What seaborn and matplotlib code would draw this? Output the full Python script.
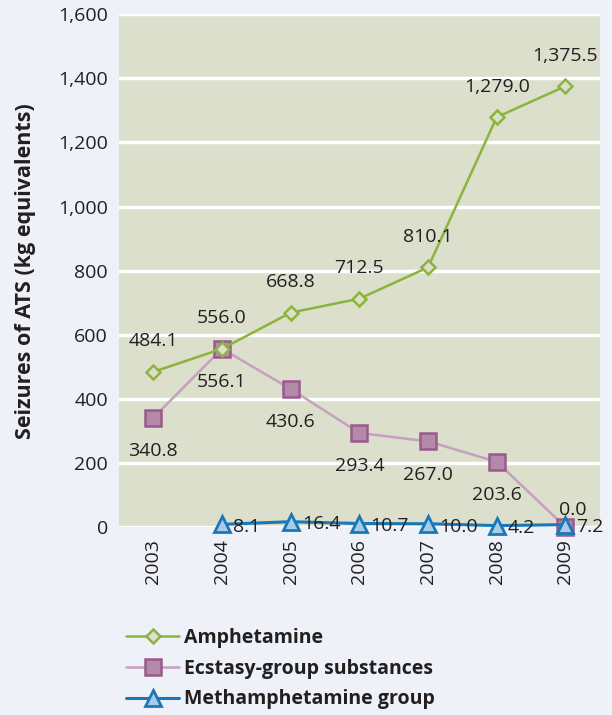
import numpy as np
import pandas as pd
import matplotlib
matplotlib.use("Agg")
import matplotlib.pyplot as plt
import seaborn as sns

# data
years = ["2003", "2004", "2005", "2006", "2007", "2008", "2009"]
amphetamine = [484.1, 556.0, 668.8, 712.5, 810.1, 1279.0, 1375.5]
ecstasy = [340.8, 556.1, 430.6, 293.4, 267.0, 203.6, 0.0]
meth = [np.nan, 8.1, 16.4, 10.7, 10.0, 4.2, 7.2]

series_names = ["Amphetamine", "Ecstasy-group substances", "Methamphetamine group"]

sns.set_theme(style="white")
plt.rcParams['font.family'] = ['Open Sans', 'DejaVu Sans']

FIG_BG = "#eef1f8"
AX_BG = "#dbdfcb"
TEXT = "#231f20"

fig = plt.figure(figsize=(6.12, 7.15), dpi=100, facecolor=FIG_BG)
ax = fig.add_axes([0.1944, 0.263, 0.7856, 0.717])
ax.set_facecolor(AX_BG)

x = np.arange(len(years))
df = pd.DataFrame({"x": x, "Amphetamine": amphetamine,
                   "Ecstasy-group substances": ecstasy,
                   "Methamphetamine group": meth})

styles = {
    "Amphetamine": dict(color="#8cb43c", marker="D", markersize=7,
                        markerfacecolor=AX_BG, markeredgecolor="#8cb43c",
                        markeredgewidth=1.8, linewidth=1.8),
    "Ecstasy-group substances": dict(color="#c7a0c0", marker="s", markersize=11,
                                     markerfacecolor="#b48aa9", markeredgecolor="#9b5a8e",
                                     markeredgewidth=1.8, linewidth=1.8),
    "Methamphetamine group": dict(color="#1a78b8", marker="^", markersize=11,
                                  markerfacecolor="#a9cbe8", markeredgecolor="#1a78b8",
                                  markeredgewidth=2.0, linewidth=2.2),
}

for name in ["Ecstasy-group substances", "Amphetamine", "Methamphetamine group"]:
    sub = df[["x", name]].dropna()
    sns.lineplot(data=sub, x="x", y=name, ax=ax, label=name,
                 clip_on=False, zorder=3, **styles[name])

# data labels
FS = 14
for i, v in enumerate(amphetamine):
    ax.annotate(f"{v:,.1f}", (x[i], v), xytext=(0, 22), textcoords="offset points",
                ha="center", va="center", fontsize=FS, color=TEXT)
for i, v in enumerate(ecstasy):
    if v == 0:
        ax.annotate(f"{v:,.1f}", (x[i], v), xytext=(5, 12), textcoords="offset points",
                    ha="center", va="center", fontsize=FS, color=TEXT)
    else:
        ax.annotate(f"{v:,.1f}", (x[i], v), xytext=(0, -24), textcoords="offset points",
                    ha="center", va="center", fontsize=FS, color=TEXT)
for i, v in enumerate(meth):
    if np.isnan(v):
        continue
    ax.annotate(f"{v:,.1f}", (x[i], v), xytext=(8, -2), textcoords="offset points",
                ha="left", va="center", fontsize=FS, color=TEXT)

ax.set_xlim(-0.5, 6.5)
ax.set_ylim(0, 1600)
ax.set_yticks(range(0, 1601, 200))
ax.set_yticklabels([f"{t:,}" for t in range(0, 1601, 200)], fontsize=FS, color=TEXT)
ax.set_xticks(x)
ax.set_xticklabels(years, rotation=90, fontsize=FS, color=TEXT)
ax.tick_params(axis="both", length=0, pad=8)
ax.tick_params(axis="x", pad=9)
ax.yaxis.grid(True, color="white", linewidth=2.5)
ax.set_axisbelow(True)
for s in ax.spines.values():
    s.set_visible(False)
ax.set_xlabel("")
ax.set_ylabel("Seizures of ATS (kg equivalents)", fontsize=15.5, fontweight="bold",
              color=TEXT, labelpad=16)

handles, labels = ax.get_legend_handles_labels()
order = [labels.index(n) for n in series_names]
ax.get_legend().remove()
fig.legend([handles[k] for k in order], [labels[k] for k in order],
           loc="upper left", bbox_to_anchor=(0.177, 0.146), frameon=False,
           prop={"size": 14, "weight": "bold"}, handlelength=2.75,
           handletextpad=0.25, labelspacing=0.55, labelcolor=TEXT)

fig.savefig("out.png", dpi=100, facecolor=FIG_BG)
